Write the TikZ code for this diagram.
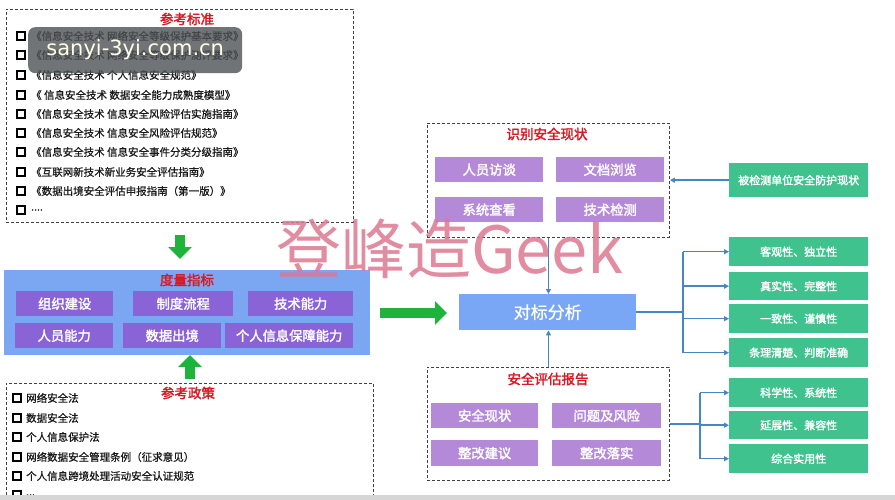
\documentclass[tikz,border=0pt]{standalone}
\usepackage{fontspec}
\setmainfont{Noto Sans CJK SC}[AutoFakeBold=2]
\newfontfamily\medfont{Noto Sans CJK SC}[FakeBold=0.7]
\newfontfamily\wmlatin{DejaVu Sans}
\usetikzlibrary{arrows.meta}
\newcommand\pxf[1]{\fontsize{#1}{#1}\selectfont}
\definecolor{bluebg}{RGB}{122,166,242}
\definecolor{anablue}{RGB}{122,167,245}
\definecolor{purpA}{RGB}{138,99,214}
\definecolor{purpB}{RGB}{180,137,216}
\definecolor{greenB}{RGB}{64,194,142}
\definecolor{linkblue}{RGB}{70,135,195}
\definecolor{arrgreen}{RGB}{30,180,60}
\definecolor{titlered}{RGB}{215,25,35}
\definecolor{wmpink}{RGB}{222,120,145}
\definecolor{wmgrey}{RGB}{78,82,86}
\definecolor{listtxt}{RGB}{25,25,25}
\begin{document}
\begin{tikzpicture}[x=1pt,y=-1pt,
  dbox/.style={draw=black!75, line width=0.9pt, dash pattern=on 3pt off 2pt, anchor=north west, inner sep=0pt},
  fbox/.style={anchor=north west, inner sep=0pt},
  pbox/.style={fbox, fill=purpA, text=white, font=\pxf{13.3pt}\bfseries},
  qbox/.style={fbox, fill=purpB, text=white, font=\pxf{13.3pt}\bfseries},
  gbox/.style={fbox, fill=greenB, text=white, font=\pxf{11pt}\bfseries, minimum width=139},
  ttl/.style={text=titlered, font=\pxf{13.5pt}\bfseries, inner sep=0pt},
  bul/.style={draw=black, line width=1.8pt, fill=white, minimum size=7.5, inner sep=0pt},
  itm/.style={anchor=west, inner sep=0pt, text=listtxt, font=\medfont\pxf{10.5pt}},
  garrow/.style={draw=arrgreen, line width=10pt, -{Triangle[length=12pt 0 0, width=23pt 0 0]}},
  barrow/.style={draw=linkblue, line width=1.5pt, -{Triangle[length=5pt 0 0, width=5pt 0 0]}},
  bline/.style={draw=linkblue, line width=1.5pt}]
\useasboundingbox (0,0) rectangle (895,500);
\fill[white] (0,0) rectangle (895,500);

% ---------- reference standards ----------
\node[dbox, minimum width=347, minimum height=213] (std) at (6,9) {};
\node[ttl] (stdt) at (187,19) {参考标准};
\foreach \yy/\tt [count=\i] in {36/{《信息安全技术 网络安全等级保护基本要求》},
  55/{《信息安全技术 网络安全等级保护测评要求》},
  75/{《信息安全技术 个人信息安全规范》},
  95/{《 信息安全技术 数据安全能力成熟度模型》},
  114/{《信息安全技术 信息安全风险评估实施指南》},
  133/{《信息安全技术 信息安全风险评估规范》},
  152/{《信息安全技术 信息安全事件分类分级指南》},
  172/{《互联网新技术新业务安全评估指南》},
  191/{《数据出境安全评估申报指南（第一版）》},
  210/{....}}{
  \node[bul] (sb\i) at (21,\yy) {};
  \node[itm] (st\i) at (31,\yy) {\tt};
}

% ---------- metrics ----------
\node[fbox, fill=bluebg, minimum width=366, minimum height=85] (metric) at (4,270) {};
\node[ttl] (mt) at (187,280) {度量指标};
\node[pbox, minimum width=97, minimum height=25] (m1) at (16,291) {组织建设};
\node[pbox, minimum width=100, minimum height=25] (m2) at (133,291) {制度流程};
\node[pbox, minimum width=105, minimum height=25] (m3) at (248,291) {技术能力};
\node[pbox, minimum width=98, minimum height=25] (m4) at (15,323) {人员能力};
\node[pbox, minimum width=98, minimum height=25] (m5) at (123,323) {数据出境};
\node[pbox, minimum width=128, minimum height=25] (m6) at (225,323) {个人信息保障能力};

% ---------- reference policies ----------
\node[dbox, minimum width=367, minimum height=112] (pol) at (6,383) {};
\node[ttl] (polt) at (188,393) {参考政策};
\foreach \yy/\tt [count=\i] in {398/{网络安全法},
  418/{数据安全法},
  437/{个人信息保护法},
  457/{网络数据安全管理条例（征求意见）},
  476/{个人信息跨境处理活动安全认证规范},
  495/{...}}{
  \node[bul] (pb\i) at (17,\yy) {};
  \node[itm] (pt\i) at (26,\yy) {\tt};
}

% ---------- identify current state ----------
\node[dbox, minimum width=242, minimum height=114] (idb) at (427,123) {};
\node[ttl] (idt) at (547,134) {识别安全现状};
\node[qbox, minimum width=108, minimum height=25] (q1) at (435,157) {人员访谈};
\node[qbox, minimum width=108, minimum height=25] (q2) at (556,157) {文档浏览};
\node[qbox, minimum width=108, minimum height=25] (q3) at (435,197) {系统查看};
\node[qbox, minimum width=108, minimum height=25] (q4) at (556,197) {技术检测};

% ---------- benchmark analysis ----------
\node[fbox, fill=anablue, text=white, font=\medfont\pxf{17pt}, minimum width=177, minimum height=36] (ana) at (459,294) {对标分析};

% ---------- assessment report ----------
\node[dbox, minimum width=242, minimum height=113] (rep) at (427,367) {};
\node[ttl] (rept) at (548,379) {安全评估报告};
\node[qbox, minimum width=107, minimum height=25] (r1) at (431,403) {安全现状};
\node[qbox, minimum width=109, minimum height=25] (r2) at (552,403) {问题及风险};
\node[qbox, minimum width=107, minimum height=26] (r3) at (431,440) {整改建议};
\node[qbox, minimum width=109, minimum height=26] (r4) at (552,440) {整改落实};

% ---------- green boxes ----------
\node[gbox, minimum height=34] (g0) at (729,163) {被检测单位安全防护现状};
\node[gbox, minimum height=29] (g1) at (729,237) {客观性、独立性};
\node[gbox, minimum height=28] (g2) at (729,272) {真实性、完整性};
\node[gbox, minimum height=29] (g3) at (729,304) {一致性、谨慎性};
\node[gbox, minimum height=29] (g4) at (729,338) {条理清楚、判断准确};
\node[gbox, minimum height=29] (g5) at (729,378) {科学性、系统性};
\node[gbox, minimum height=28] (g6) at (729,411) {延展性、兼容性};
\node[gbox, minimum height=29] (g7) at (729,444) {综合实用性};

% ---------- green arrows ----------
\coordinate (a1s) at (180,235);
\coordinate (a1e) at (180,259);
\coordinate (a2s) at (190,379);
\coordinate (a2e) at (190,355);
\coordinate (a3s) at (380,313);
\coordinate (a3e) at (447,313);
\draw[garrow] (a1s) -- (a1e);
\draw[garrow] (a2s) -- (a2e);
\draw[garrow] (a3s) -- (a3e);

% ---------- blue connectors ----------
\draw[barrow] (g0.west) -- (g0.west -| idb.east);
\draw[barrow] (idb.south) -- (idb.south |- ana.north);
\draw[barrow] (rep.north) -- (rep.north |- ana.south);
\coordinate (j1) at (683,312);
\coordinate (j2) at (700,423);
\draw[bline] (ana.east) -- (ana.east -| j1);
\draw[bline] (j1 |- g1.west) -- (j1 |- g4.west);
\foreach \g in {g1,g2,g3,g4}{\draw[barrow] (j1 |- \g.west) -- (\g.west);}
\draw[bline] (rep.east) -- (rep.east -| j2);
\draw[bline] (j2 |- g5.west) -- (j2 |- g7.west);
\foreach \g in {g5,g6,g7}{\draw[barrow] (j2 |- \g.west) -- (\g.west);}

% ---------- watermarks ----------
\node[text=wmpink, opacity=0.85, font=\pxf{65pt}, inner sep=0pt] (wm) at (450,249) {登峰造Geek};
\node[fbox, fill=wmgrey, fill opacity=0.8, rounded corners=7pt, minimum width=214, minimum height=46] (wmb) at (28,27) {};
\node[text=white!90!yellow, font=\wmlatin\pxf{21pt}, inner sep=0pt] (wmt) at (wmb.center) {sanyi-3yi.com.cn};
\fill[black!16] (0,495) rectangle (895,500);
\end{tikzpicture}
\end{document}
